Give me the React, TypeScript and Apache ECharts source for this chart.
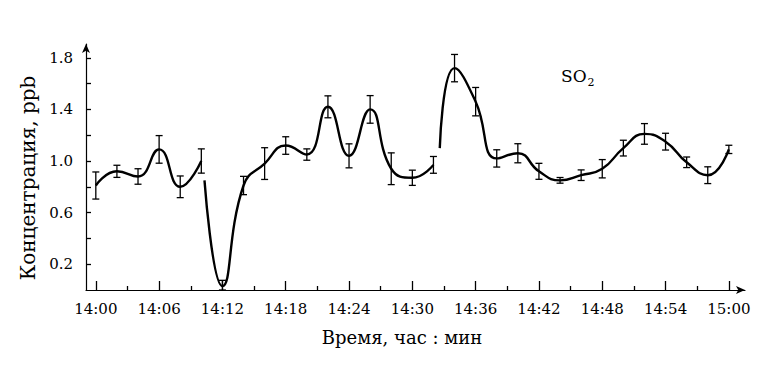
import React, { useEffect, useRef } from "react";
import * as echarts from "echarts";

// minutes after 14:00
const minutes = [0, 2, 4, 6, 8, 10, 12, 14, 16, 18, 20, 22, 24, 26, 28, 30, 32, 34, 36, 38, 40, 42, 44, 46, 48, 50, 52, 54, 56, 58, 60];
const so2 = [0.81, 0.92, 0.88, 1.09, 0.80, 1.00, 0.03, 0.81, 0.98, 1.12, 1.05, 1.42, 1.04, 1.40, 0.94, 0.87, 0.97, 1.72, 1.46, 1.02, 1.06, 0.92, 0.85, 0.89, 0.94, 1.10, 1.21, 1.15, 0.99, 0.89, 1.09];
const so2Err = [0.105, 0.047, 0.06, 0.107, 0.084, 0.094, 0.045, 0.071, 0.123, 0.068, 0.044, 0.085, 0.093, 0.107, 0.123, 0.059, 0.065, 0.106, 0.11, 0.067, 0.074, 0.062, 0.022, 0.041, 0.071, 0.061, 0.08, 0.065, 0.041, 0.065, 0.032];
// where the drawn curve is interrupted, and the points where it restarts
const curveGapMinutes = [10.15, 32.3];
const curveRestartMinutes = [10.3, 32.6];
const curveRestartValues = [0.85, 1.1];
const xMajorTicks = [0, 6, 12, 18, 24, 30, 36, 42, 48, 54, 60];
const xMinorTicks = [3, 9, 15, 21, 27, 33, 39, 45, 51, 57];
const yTicks = [0.2, 0.4, 0.6, 0.8, 1.0, 1.2, 1.4, 1.6, 1.8];
const yLabels = [0.2, 0.6, 1.0, 1.4, 1.8];

const FONT = "DejaVu Serif";

function fmtTime(m: number) {
  const h = 14 + Math.floor(m / 60);
  const mm = Math.round(m % 60);
  return `${h}:${mm < 10 ? "0" + mm : mm}`;
}

export default function App() {
  const ref = useRef<HTMLDivElement>(null);
  useEffect(() => {
    if (!ref.current) return;
    const chart = echarts.init(ref.current, null, { renderer: "svg" });
    const pts: any[] = minutes.map((m, i) => [m, so2[i]]);
    curveRestartMinutes.forEach((m, i) => pts.push([m, curveRestartValues[i]]));
    curveGapMinutes.forEach((m) => pts.push([m, "-"]));
    pts.sort((a, b) => a[0] - b[0]);
    const errData = minutes.map((m, i) => [m, so2[i] - so2Err[i], so2[i] + so2Err[i]]);
    const axisCommon = {
      type: "value",
      min: -0.93,
      max: 61.53,
      position: "bottom",
      splitLine: { show: false },
    };
    chart.setOption({
      animation: false,
      backgroundColor: "#fff",
      grid: { left: 86, right: 19, top: 44, bottom: 81, containLabel: false },
      xAxis: [
        {
          ...axisCommon,
          axisLine: {
            show: true,
            onZero: false,
            symbol: ["none", "arrow"],
            symbolSize: [6, 9],
            lineStyle: { color: "#000", width: 1.2 },
          },
          axisTick: {
            show: true,
            inside: true,
            length: 9,
            customValues: xMajorTicks,
            lineStyle: { color: "#000", width: 1.3 },
          },
          axisLabel: {
            show: true,
            customValues: xMajorTicks,
            formatter: (v: number) => fmtTime(v),
            color: "#000",
            fontFamily: FONT,
            fontSize: 15,
            margin: 11,
          },
        },
        {
          ...axisCommon,
          axisLine: { show: false, onZero: false },
          axisTick: {
            show: true,
            inside: true,
            length: 4,
            customValues: xMinorTicks,
            lineStyle: { color: "#000", width: 1.3 },
          },
          axisLabel: { show: false },
        },
      ],
      yAxis: {
        type: "value",
        min: 0,
        max: 1.907,
        splitLine: { show: false },
        axisLine: {
          show: true,
          onZero: false,
          symbol: ["none", "arrow"],
          symbolSize: [6, 9],
          lineStyle: { color: "#000", width: 1.2 },
        },
        axisTick: {
          show: true,
          inside: true,
          length: 5,
          customValues: yTicks,
          lineStyle: { color: "#000", width: 1.3 },
        },
        axisLabel: {
          show: true,
          customValues: yLabels,
          formatter: (v: number) => v.toFixed(1),
          color: "#000",
          fontFamily: FONT,
          fontSize: 15,
          margin: 13,
        },
      },
      series: [
        {
          type: "line",
          data: pts,
          smooth: 0.5,
          connectNulls: false,
          showSymbol: false,
          lineStyle: { color: "#000", width: 2.4 },
          z: 3,
        },
        {
          type: "custom",
          data: errData,
          clip: true,
          z: 4,
          renderItem: (params: any, api: any) => {
            const x = api.value(0);
            const lo = Math.max(api.value(1), 0);
            const hi = api.value(2);
            const p1 = api.coord([x, lo]);
            const p2 = api.coord([x, hi]);
            const w = 3.5;
            const st = { stroke: "#000", lineWidth: 1.3 };
            return {
              type: "group",
              children: [
                { type: "line", shape: { x1: p1[0], y1: p1[1], x2: p2[0], y2: p2[1] }, style: st },
                { type: "line", shape: { x1: p1[0] - w, y1: p1[1], x2: p1[0] + w, y2: p1[1] }, style: st },
                { type: "line", shape: { x1: p2[0] - w, y1: p2[1], x2: p2[0] + w, y2: p2[1] }, style: st },
              ],
            };
          },
        },
      ],
      graphic: [
        {
          type: "text",
          x: 28,
          y: 178,
          rotation: Math.PI / 2,
          style: {
            text: "Концентрация, ppb",
            fontFamily: FONT,
            fontSize: 20,
            fill: "#000",
            align: "center",
            verticalAlign: "middle",
          },
        },
        {
          type: "text",
          x: 402,
          y: 337,
          style: {
            text: "Время, час : мин",
            fontFamily: FONT,
            fontSize: 18,
            fill: "#000",
            align: "center",
            verticalAlign: "middle",
          },
        },
        {
          type: "text",
          x: 561,
          y: 64,
          style: {
            text: "{a|SO}{b|2}",
            fill: "#000",
            rich: {
              a: { fontFamily: FONT, fontSize: 17, fill: "#000" },
              b: { fontFamily: FONT, fontSize: 11, fill: "#000", padding: [13, 0, 0, 1] },
            },
          },
        },
      ],
    });
    return () => chart.dispose();
  }, []);
  return (
    <div
      ref={ref}
      style={{ position: "fixed", left: 0, top: 0, width: 764, height: 371, background: "#fff" }}
    />
  );
}
